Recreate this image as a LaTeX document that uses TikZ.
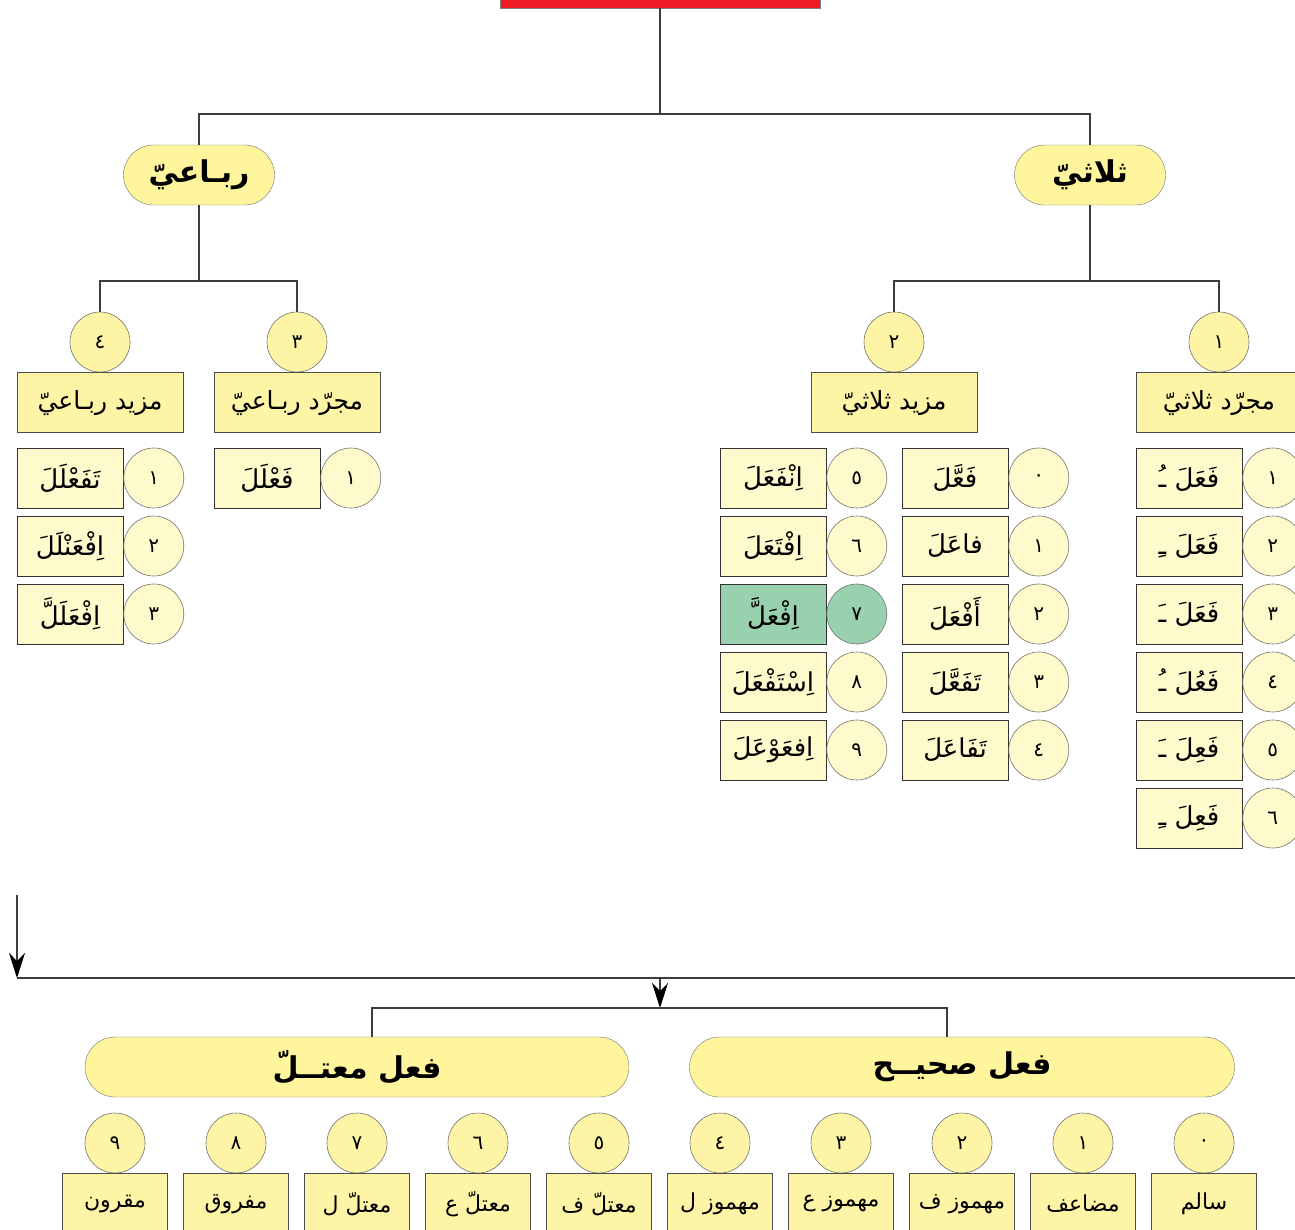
\documentclass[tikz,border=0pt]{standalone}
\usepackage{fontspec}
\usepackage{xcolor}
\usetikzlibrary{arrows.meta, positioning, calc}
\TeXXeTstate=1
\newfontfamily\arabicfont[Script=Arabic]{DejaVu Sans}
\newcommand*{\ar}[1]{{\arabicfont\beginR #1\endR}}
\definecolor{pillfill}{HTML}{FFF59C}
\definecolor{headfill}{HTML}{FEF4A6}
\definecolor{itemfill}{HTML}{FFFACC}
\definecolor{greenfill}{HTML}{99D1AE}
\definecolor{rootred}{HTML}{EE1C25}
\definecolor{linegray}{HTML}{3C3C3C}

\begin{document}
\begin{tikzpicture}[x=1pt, y=-1pt]
		\tikzset{
			myarrow/.tip={Stealth[length=25pt, width=16pt, inset=8pt, color=black]},
			line/.style={draw=linegray, line width=1.2pt},
			pill/.style={draw=black!55, fill=pillfill, rounded corners=30pt, minimum height=60pt, inner sep=0pt, font=\fontsize{30}{34}\selectfont\bfseries},
			headbox/.style={draw=black!70, line width=1pt, fill=headfill, minimum width=166pt, minimum height=60pt, inner sep=0pt, font=\fontsize{25}{28}\selectfont},
			itembox/.style={draw=black!80, line width=1pt, fill=itemfill, minimum width=106pt, minimum height=60pt, inner sep=0pt, font=\fontsize{26}{30}\selectfont},
			numcirc/.style={circle, draw=black!55, line width=0.6pt, fill=itemfill, minimum size=60pt, inner sep=0pt, font=\fontsize{20}{22}\selectfont},
			headcirc/.style={numcirc, fill=headfill},
			leafbox/.style={draw=black!70, line width=1pt, fill=headfill, minimum width=105pt, minimum height=60pt, inner sep=0pt, font=\fontsize{22}{26}\selectfont},
		}
		\path[use as bounding box, clip] (0,0) rectangle (1295,1229);

		% upper tree
		\node[draw=black!50, fill=rootred, minimum width=320pt, minimum height=24pt] (root) at (660,-4) {};
		\node[pill, minimum width=151pt] (tri) at (1090,175) {\ar{ثلاثيّ}};
		\node[pill, minimum width=151pt] (rub) at (199,175) {\ar{ربـاعيّ}};
		\coordinate (j1) at (660,114);
		\draw[line] (root) -- (j1) -| (tri);
		\draw[line] (j1) -| (rub);

		\node[headcirc] (c1) at (1219,342) {\ar{١}};
		\node[headcirc] (c2) at (894,342) {\ar{٢}};
		\node[headcirc] (c3) at (297,342) {\ar{٣}};
		\node[headcirc] (c4) at (100,342) {\ar{٤}};
		\coordinate (j2) at (1090,281);
		\coordinate (j3) at (199,281);
		\draw[line] (tri) -- (j2) -| (c1);
		\draw[line] (j2) -| (c2);
		\draw[line] (rub) -- (j3) -| (c3);
		\draw[line] (j3) -| (c4);

		\node[headbox, below=0pt of c1] (mujtri) {\ar{مجرّد ثلاثيّ}};
		\node[headbox, below=0pt of c2] (maztri) {\ar{مزيد ثلاثيّ}};
		\node[headbox, below=0pt of c3] (mujrub) {\ar{مجرّد ربـاعيّ}};
		\node[headbox, below=0pt of c4] (mazrub) {\ar{مزيد ربـاعيّ}};

		% verb patterns
		\foreach \txt/\num [count=\i] in {فَعَلَ ـُ/١, فَعَلَ ـِ/٢, فَعَلَ ـَ/٣, فَعُلَ ـُ/٤, فَعِلَ ـَ/٥, فَعِلَ ـِ/٦} {
			\node[itembox] (mt\i) at (1189,410+68*\i) {\ar{\txt}};
			\node[numcirc, right=0pt of mt\i] (mtn\i) {\ar{\num}};
		}
		\foreach \txt/\num [count=\i] in {فَعَّلَ/٠, فاعَلَ/١, أَفْعَلَ/٢, تَفَعَّلَ/٣, تَفَاعَلَ/٤} {
			\node[itembox] (zt\i) at (955,410+68*\i) {\ar{\txt}};
			\node[numcirc, right=0pt of zt\i] (ztn\i) {\ar{\num}};
		}
		\foreach \txt/\num/\shade [count=\i] in {اِنْفَعَلَ/٥/itemfill, اِفْتَعَلَ/٦/itemfill, اِفْعَلَّ/٧/greenfill, اِسْتَفْعَلَ/٨/itemfill, اِفعَوْعَلَ/٩/itemfill} {
			\node[itembox, fill=\shade] (zs\i) at (773,410+68*\i) {\ar{\txt}};
			\node[numcirc, fill=\shade, right=0pt of zs\i] (zsn\i) {\ar{\num}};
		}
		\node[itembox] (mr1) at (267,478) {\ar{فَعْلَلَ}};
		\node[numcirc, right=0pt of mr1] (mrn1) {\ar{١}};
		\foreach \txt/\num [count=\i] in {تَفَعْلَلَ/١, اِفْعَنْلَلَ/٢, اِفْعَلَلَّ/٣} {
			\node[itembox] (zr\i) at (70,410+68*\i) {\ar{\txt}};
			\node[numcirc, right=0pt of zr\i] (zrn\i) {\ar{\num}};
		}

		% lower tree
		\coordinate (in1) at (17,895);
		\coordinate (bl) at (17,978);
		\coordinate (br) at (1300,978);
		\coordinate (bm) at (660,978);
		\coordinate (km) at (660,1008);
		\coordinate (k1) at (372,1008);
		\coordinate (k2) at (947,1008);
		\draw[line, -myarrow] (in1) -- (bl);
		\draw[line] (bl) -- (br);
		\draw[line, -myarrow] (bm) -- (km);

		\node[pill, minimum width=544pt] (mutal) at (357,1067) {\ar{فعل معتــلّ}};
		\node[pill, minimum width=545pt] (sahih) at (962,1067) {\ar{فعل صحيــح}};
		\draw[line] (mutal.north -| k1) -- (k1) -- (k2) -- (sahih.north -| k2);

		\foreach \txt/\num [count=\i from 0] in {سالم/٠, مضاعف/١, مهموز ف/٢, مهموز ع/٣, مهموز ل/٤, معتلّ ف/٥, معتلّ ع/٦, معتلّ ل/٧, مفروق/٨, مقرون/٩} {
			\node[headcirc] (kn\i) at (1204-121*\i,1143) {\ar{\num}};
			\node[leafbox, below=0pt of kn\i] (kb\i) {\ar{\txt}};
		}
	\end{tikzpicture}
\end{document}
